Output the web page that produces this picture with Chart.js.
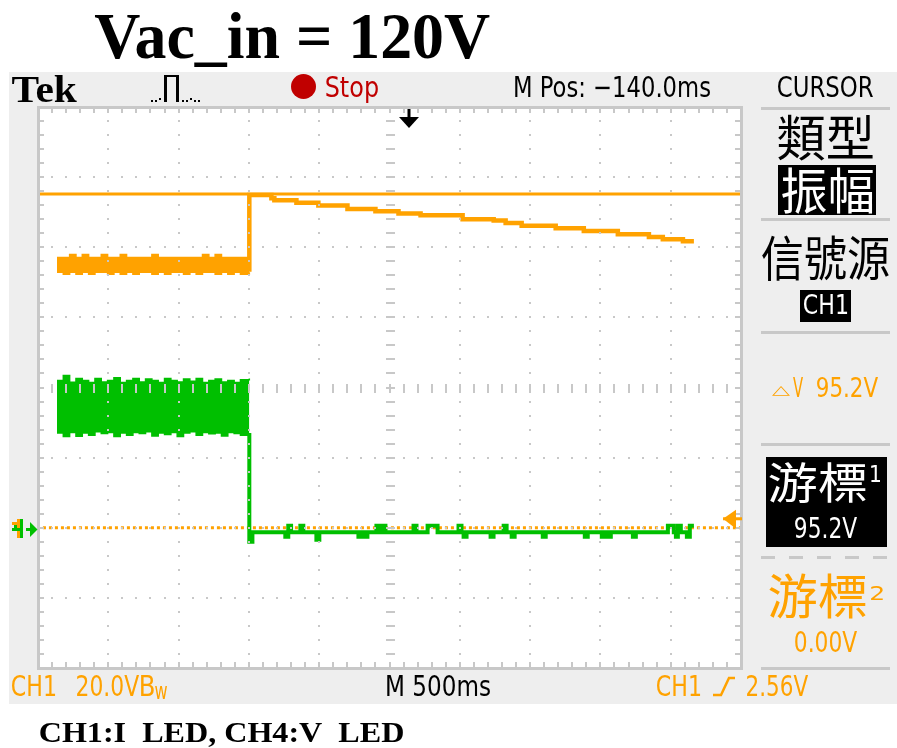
<!DOCTYPE html>
<html>
<head>
<meta charset="utf-8">
<title>Vac_in = 120V</title>
<script src="https://cdn.jsdelivr.net/npm/chart.js@4"></script>
<style>
  html, body { margin: 0; padding: 0; background: #ffffff; overflow: hidden; }
  #wrap { position: relative; width: 897px; height: 748px; }
  canvas { display: block; }
</style>
</head>
<body>
<div id="wrap"><canvas id="scope" width="897" height="748"></canvas></div>
<script>
// ---------------- DATA ----------------
// time axis in ms (10 div x 500 ms), vertical axis in CH1 volts (8 div x 20 V)
const timeRangeMs = [0, 5000];
const voltRange = [-40, 120];
const timePerDivMs = 500;
const voltsPerDiv = 20;

// time stamps of the noisy section before the step (ms)
const bandT = [135, 180, 225, 270, 315, 360, 405, 450, 495, 540, 585, 630, 675, 720, 765, 810,
               855, 900, 945, 990, 1035, 1080, 1125, 1170, 1215, 1260, 1305, 1350, 1395, 1440, 1503];
// CH1 (orange) envelope before the step
const ch1BandHi = [77.1, 77.1, 77.9, 77.1, 77.9, 77.1, 77.1, 77.9, 77.1, 77.1, 77.9, 77.1, 77.1, 77.1, 77.1, 77.9,
                   77.1, 77.1, 77.1, 77.1, 77.1, 77.1, 77.1, 77.9, 77.1, 77.9, 77.1, 77.1, 77.1, 77.1, 77.1];
const ch1BandLo = [72.9, 72.3, 72.9, 72.3, 72.9, 72.3, 72.9, 72.9, 72.3, 72.9, 72.3, 72.9, 72.3, 72.9, 72.9, 72.3,
                   72.9, 72.3, 72.9, 72.9, 72.3, 72.9, 72.3, 72.9, 72.9, 72.3, 72.9, 72.3, 72.9, 72.3, 72.9];
// CH4 (green) envelope before the step (screen units of the CH1 scale)
const ch4BandHi = [42.0, 43.4, 41.5, 42.6, 42.0, 41.4, 42.6, 41.6, 42.0, 42.8, 41.4, 42.0, 42.6, 41.6, 42.4, 42.0,
                   41.4, 42.6, 42.0, 41.6, 42.4, 41.8, 42.6, 41.4, 42.0, 42.4, 41.6, 42.0, 41.4, 42.2, 42.6];
const ch4BandLo = [27.0, 26.0, 27.2, 26.1, 27.0, 26.4, 27.4, 26.9, 27.2, 26.0, 27.0, 26.4, 27.2, 26.9, 27.4, 26.2,
                   27.0, 26.6, 27.2, 26.0, 27.0, 27.4, 26.4, 27.2, 26.8, 27.0, 26.2, 27.2, 26.9, 26.4, 27.0];

// CH1 after the step: stair-stepped decay
const ch1DecayT = [1503, 1503, 1660, 1681, 1838, 1994, 2201, 2400, 2564, 2721, 3020, 3241, 3326, 3440, 3682,
                   3882, 4124, 4345, 4444, 4587, 4665];
const ch1DecayV = [73.0, 94.9, 94.0, 93.4, 92.7, 91.9, 90.9, 90.3, 89.6, 89.1, 88.0, 87.6, 86.9, 86.1, 85.4,
                   84.6, 83.7, 82.9, 82.3, 81.7, 81.7];

// CH4 after the step: falls to ground, small glitches
const ch4AfterT = [1503, 1503, 1525, 1759, 1780, 1800, 1866, 1887, 1980, 2001, 2279, 2300, 2322, 2343, 2407, 2428,
                   2450, 2471, 2671, 2692, 2771, 2842, 2991, 3012, 3027, 3048, 3219, 3240, 3312, 3333, 3369, 3390,
                   3590, 3611, 3889, 3910, 4010, 4031, 4053, 4074, 4231, 4252, 4480, 4522, 4537, 4551, 4572, 4615,
                   4636, 4665];
const ch4AfterV = [27.0, -4.0, -1.3, -2.6, 0.6, -1.3, 0.6, -1.3, -3.4, -1.3, -2.6, -1.3, -2.6, -1.3, 0.6, -1.3,
                   0.6, -1.3, 0.6, -1.3, 0.6, -1.3, 0.6, -1.3, -2.6, -1.3, -2.6, -1.3, 0.6, -1.3, -2.6, -1.3,
                   -2.6, -1.3, -2.6, -1.3, -2.6, -1.3, -2.6, -1.3, -2.6, -1.3, 0.6, -1.3, -2.6, 0.6, -1.3, -2.6,
                   0.6, 0.6];

// cursors (CH1): cursor 1 and cursor 2 levels
const cursorLevels = [95.2, 0.00];
const cursorLabels = ['95.2V', '0.00V'];
const deltaLabel = '95.2V';
const groundLevelV = 0;
const triggerLevelV = 2.56;
const mPosMs = -140;

// ---------------- STYLE ----------------
const ORANGE = '#ffa200';
const GREEN = '#00bf00';
const GRID = '#c8c8c8';
const PANEL = '#eeeeee';
const RED = '#c00000';
const SANS = '"Liberation Sans Narrow", "DejaVu Sans Condensed", "Liberation Sans", sans-serif';
const SERIF = '"Liberation Serif", "DejaVu Serif", serif';
const CJK = '"Noto Sans CJK TC", "Noto Sans CJK SC", "Noto Sans CJK JP", sans-serif';

const zip = (ts, vs) => ts.map((t, i) => ({ x: t, y: vs[i] }));

function fitBox(ctx, s, x0, x1, y0, y1, family, color, weight) {
  ctx.save();
  ctx.font = (weight ? weight + ' ' : '') + '100px ' + family;
  ctx.textAlign = 'left';
  ctx.textBaseline = 'alphabetic';
  const m = ctx.measureText(s);
  const w = m.actualBoundingBoxLeft + m.actualBoundingBoxRight;
  const h = m.actualBoundingBoxAscent + m.actualBoundingBoxDescent;
  const sx = (x1 - x0) / w, sy = (y1 - y0) / h;
  ctx.translate(x0 + m.actualBoundingBoxLeft * sx, y0 + m.actualBoundingBoxAscent * sy);
  ctx.scale(sx, sy);
  ctx.fillStyle = color;
  ctx.fillText(s, 0, 0);
  ctx.restore();
}

// ---------------- PLUGINS ----------------
const scopeBackground = {
  id: 'scopeBackground',
  beforeDraw(chart) {
    const { ctx, chartArea: a } = chart;
    ctx.save();
    ctx.fillStyle = '#ffffff';
    ctx.fillRect(0, 0, chart.width, chart.height);
    ctx.fillStyle = PANEL;
    ctx.fillRect(9, 72, chart.width - 9, 632);
    ctx.fillStyle = '#ffffff';
    ctx.fillRect(a.left, a.top, a.right - a.left, a.bottom - a.top);
    ctx.restore();
  }
};

const graticule = {
  id: 'graticule',
  afterDatasetsDraw(chart) {
    const { ctx, chartArea: a, scales: { x: xs, y: ys } } = chart;
    const L = Math.round(a.left), R = Math.round(a.right), T = Math.round(a.top), B = Math.round(a.bottom);
    const nx = (timeRangeMs[1] - timeRangeMs[0]) / timePerDivMs;
    const ny = (voltRange[1] - voltRange[0]) / voltsPerDiv;
    const xsub = [], ysub = [];
    for (let k = 0; k <= nx * 5; k++) xsub.push(Math.round(xs.getPixelForValue(timeRangeMs[0] + k * timePerDivMs / 5)));
    for (let k = 0; k <= ny * 5; k++) ysub.push(Math.round(ys.getPixelForValue(voltRange[0] + k * voltsPerDiv / 5)));
    ctx.save();
    ctx.fillStyle = GRID;
    for (let i = 1; i < nx; i++) {
      const X = xsub[i * 5];
      for (let k = 1; k < ny * 5; k++) {
        const Y = ysub[k];
        if (i === nx / 2) ctx.fillRect(X - 4, Y - 1, 9, 2); else ctx.fillRect(X - 1, Y - 1, 2, 2);
      }
    }
    for (let j = 1; j < ny; j++) {
      const Y = ysub[j * 5];
      for (let k = 1; k < nx * 5; k++) {
        const X = xsub[k];
        if (j === ny / 2) ctx.fillRect(X - 1, Y - 4, 2, 9); else ctx.fillRect(X - 1, Y - 1, 2, 2);
      }
    }
    // border
    ctx.fillRect(L - 1, T - 1, R - L + 3, 3);
    ctx.fillRect(L - 1, B - 1, R - L + 3, 3);
    ctx.fillRect(L - 1, T - 1, 3, B - T + 3);
    ctx.fillRect(R - 1, T - 1, 3, B - T + 3);
    for (let k = 1; k < nx * 5; k++) {
      ctx.fillRect(xsub[k] - 1, T, 2, 6);
      ctx.fillRect(xsub[k] - 1, B - 6, 2, 6);
    }
    for (let k = 1; k < ny * 5; k++) {
      ctx.fillRect(L, ysub[k] - 1, 6, 2);
      ctx.fillRect(R - 6, ysub[k] - 1, 6, 2);
    }
    ctx.restore();
  }
};

const scopeUi = {
  id: 'scopeUi',
  afterDraw(chart) {
    const { ctx, scales: { x: xs, y: ys } } = chart;
    ctx.save();
    // title & caption
    fitBox(ctx, 'Vac_in = 120V', 95, 490, 12, 67, SERIF, '#000', 'bold');
    fitBox(ctx, 'CH1:I  LED, CH4:V  LED', 40, 403, 722, 747, SERIF, '#000', 'bold');

    // top bar
    fitBox(ctx, 'Tek', 12, 77, 75, 102, SERIF, '#000', 'bold');
    ctx.fillStyle = '#000';
    [[151, 100], [155, 100], [159, 98]].forEach(p => ctx.fillRect(p[0], p[1], 2, 2));
    ctx.fillRect(164, 75, 3, 27);
    ctx.fillRect(164, 75, 13, 2);
    ctx.fillRect(176, 75, 3, 27);
    [[182, 100], [186, 100], [190, 98], [194, 100], [198, 100]].forEach(p => ctx.fillRect(p[0], p[1], 2, 2));
    ctx.fillStyle = RED;
    ctx.beginPath(); ctx.arc(303.5, 86.5, 12.5, 0, Math.PI * 2); ctx.fill();
    fitBox(ctx, 'Stop', 326, 378, 75, 103, SANS, RED);
    fitBox(ctx, 'M Pos: \u2212140.0ms', 515, 710, 75, 97, SANS, '#000');
    fitBox(ctx, 'CURSOR', 778, 873, 75, 97, SANS, '#000');

    // trigger position marker
    const tx = Math.round(xs.getPixelForValue(timeRangeMs[1] / 2 - mPosMs));
    ctx.fillStyle = '#000';
    ctx.fillRect(tx - 1.5, 109, 3, 9);
    ctx.beginPath(); ctx.moveTo(tx - 10, 117); ctx.lineTo(tx + 10, 117); ctx.lineTo(tx, 128); ctx.closePath(); ctx.fill();

    // ground marker (left)
    const gy = Math.round(ys.getPixelForValue(groundLevelV));
    ctx.fillStyle = ORANGE;
    ctx.fillRect(12, gy - 6, 5, 3);
    ctx.fillRect(17, gy - 9, 3, 19);
    ctx.fillStyle = GREEN;
    ctx.fillRect(20, gy - 9, 3, 19);
    ctx.fillRect(12, gy, 11, 3);
    ctx.fillRect(14, gy - 3, 3, 3);
    ctx.fillRect(26, gy, 6, 3);
    ctx.beginPath(); ctx.moveTo(30, gy - 6); ctx.lineTo(37.5, gy + 1.5); ctx.lineTo(30, gy + 9); ctx.closePath(); ctx.fill();

    // trigger level marker (right)
    const ty = ys.getPixelForValue(triggerLevelV);
    ctx.fillStyle = ORANGE;
    ctx.fillRect(723, ty - 1.5, 19, 3);
    ctx.beginPath(); ctx.moveTo(723, ty); ctx.lineTo(736, ty - 9); ctx.lineTo(736, ty + 10); ctx.closePath(); ctx.fill();

    // right panel separators
    ctx.fillStyle = GRID;
    [107, 218, 331, 443, 667].forEach(y => ctx.fillRect(761, y, 129, 3));
    for (let x = 761; x < 890; x += 28) ctx.fillRect(x, 556, 14, 3);

    fitBox(ctx, '類型', 778, 873, 115, 160, CJK, '#000');
    ctx.fillStyle = '#000';
    ctx.fillRect(778, 165, 98, 50);
    fitBox(ctx, '振幅', 782, 873, 167, 213, CJK, '#fff');
    fitBox(ctx, '信號源', 762, 889, 235, 280, CJK, '#000');
    ctx.fillStyle = '#000';
    ctx.fillRect(800, 290, 51, 32);
    fitBox(ctx, 'CH1', 804, 847, 294, 314, SANS, '#fff');

    fitBox(ctx, '\u25B3', 772, 790, 386, 396, SANS, ORANGE);
    fitBox(ctx, 'V', 793, 803, 377, 397, SANS, ORANGE);
    fitBox(ctx, deltaLabel, 817, 878, 377, 397, SANS, ORANGE);

    ctx.fillStyle = '#000';
    ctx.fillRect(766, 457, 121, 90);
    fitBox(ctx, '游標', 769, 866, 462, 503, CJK, '#fff');
    fitBox(ctx, '1', 871, 880, 465, 482, SANS, '#fff');
    fitBox(ctx, cursorLabels[0], 795, 857, 517, 538, SANS, '#fff');

    fitBox(ctx, '游標', 769, 866, 573, 618, CJK, ORANGE);
    fitBox(ctx, '2', 871, 883, 585, 600, SANS, ORANGE);
    fitBox(ctx, cursorLabels[1], 795, 857, 630, 652, SANS, ORANGE);

    // bottom bar
    fitBox(ctx, 'CH1', 12, 55, 675, 696, SANS, ORANGE);
    fitBox(ctx, '20.0V', 77, 139, 675, 696, SANS, ORANGE);
    fitBox(ctx, 'B', 141, 154, 675, 696, SANS, ORANGE);
    fitBox(ctx, 'w', 155, 167, 686, 699, SANS, ORANGE);
    fitBox(ctx, 'M 500ms', 387, 490, 675, 696, SANS, '#000');
    fitBox(ctx, 'CH1', 657, 700, 675, 696, SANS, ORANGE);
    ctx.strokeStyle = ORANGE; ctx.lineWidth = 2.5;
    ctx.beginPath(); ctx.moveTo(713, 695); ctx.lineTo(721, 695); ctx.lineTo(729, 678); ctx.lineTo(735, 678); ctx.stroke();
    fitBox(ctx, '2.56V', 747, 808, 675, 696, SANS, ORANGE);
    ctx.restore();
  }
};

// ---------------- CHART ----------------
const lineBase = { pointRadius: 0, tension: 0, stepped: true, fill: false };

new Chart(document.getElementById('scope'), {
  type: 'line',
  data: {
    datasets: [
      Object.assign({}, lineBase, { label: 'CH4 hi', data: zip(bandT, ch4BandHi), borderColor: GREEN, backgroundColor: GREEN, borderWidth: 1.5, fill: '+1', order: 1 }),
      Object.assign({}, lineBase, { label: 'CH4 lo', data: zip(bandT, ch4BandLo), borderColor: GREEN, borderWidth: 1.5, order: 1 }),
      Object.assign({}, lineBase, { label: 'CH4', data: zip(ch4AfterT, ch4AfterV), borderColor: GREEN, borderWidth: 4, order: 0 }),
      Object.assign({}, lineBase, { label: 'CH1 hi', data: zip(bandT, ch1BandHi), borderColor: ORANGE, backgroundColor: ORANGE, borderWidth: 1.5, fill: '+1', order: 2 }),
      Object.assign({}, lineBase, { label: 'CH1 lo', data: zip(bandT, ch1BandLo), borderColor: ORANGE, borderWidth: 1.5, order: 2 }),
      Object.assign({}, lineBase, { label: 'CH1', data: zip(ch1DecayT, ch1DecayV), borderColor: ORANGE, borderWidth: 4.5, order: 2 }),
      Object.assign({}, lineBase, { label: 'Cursor 1', data: [{ x: timeRangeMs[0], y: cursorLevels[0] }, { x: timeRangeMs[1], y: cursorLevels[0] }], borderColor: ORANGE, borderWidth: 3, stepped: false, order: 3 }),
      Object.assign({}, lineBase, { label: 'Cursor 2', data: [{ x: 35, y: cursorLevels[1] }, { x: timeRangeMs[1], y: cursorLevels[1] }], borderColor: ORANGE, borderWidth: 3, borderDash: [3, 3], stepped: false, order: 3 })
    ]
  },
  options: {
    responsive: false,
    devicePixelRatio: 1,
    animation: false,
    events: [],
    layout: { padding: { left: 38, top: 107, right: 156, bottom: 80 } },
    scales: {
      x: { type: 'linear', min: timeRangeMs[0], max: timeRangeMs[1], display: false },
      y: { type: 'linear', min: voltRange[0], max: voltRange[1], display: false }
    },
    plugins: { legend: { display: false }, tooltip: { enabled: false }, title: { display: false } }
  },
  plugins: [scopeBackground, graticule, scopeUi]
});
</script>
</body>
</html>
